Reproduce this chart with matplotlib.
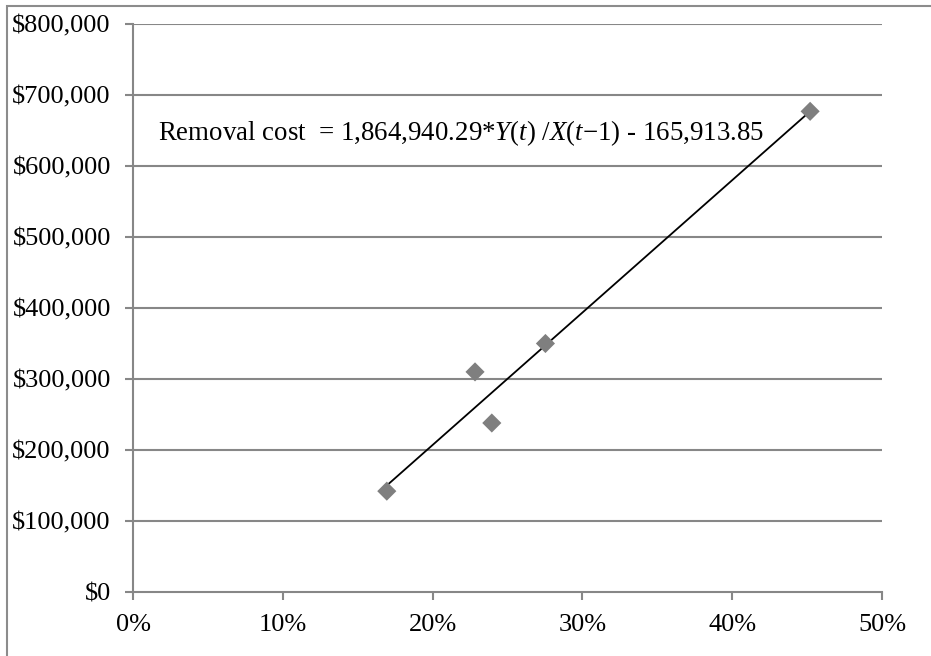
import numpy as np
import matplotlib.pyplot as plt
from matplotlib.patches import Rectangle
from matplotlib.ticker import FuncFormatter

# data
ratio = [0.1694, 0.2283, 0.2395, 0.2753, 0.4520]   # Y(t)/X(t-1)
cost = [142000, 310000, 238000, 350000, 677000]     # removal cost
slope = 1864940.29
intercept = -165913.85
xticks = [0, 0.1, 0.2, 0.3, 0.4, 0.5]
yticks = [0, 100000, 200000, 300000, 400000, 500000, 600000, 700000, 800000]

plt.rcParams['font.family'] = ['Liberation Serif', 'DejaVu Serif']
plt.rcParams['mathtext.fontset'] = 'custom'
plt.rcParams['mathtext.rm'] = 'Liberation Serif'
plt.rcParams['mathtext.it'] = 'Liberation Serif:italic'

fig = plt.figure(figsize=(9.31, 6.56), dpi=100)
ax = fig.add_axes([0.1429, 0.0976, 0.8045, 0.8658])

grid_c = '#878787'
for y in yticks[1:]:
    ax.axhline(y, color=grid_c, lw=1.5, zorder=1)

# trendline
xs = np.array([min(ratio), max(ratio)])
ax.plot(xs, slope * xs + intercept, color='black', lw=1.3, zorder=2)

ax.scatter(ratio, cost, marker='D', s=95, color='#7f7f7f', edgecolors='none', zorder=3)

ax.text(0.0167, 647000, 'Removal cost  = 1,864,940.29*$Y(t)$ /$X(t{-}1)$ - 165,913.85',
        fontsize=19.4, va='center', ha='left')

ax.set_xlim(0, 0.5)
ax.set_ylim(0, 800000)
ax.set_xticks(xticks)
ax.set_yticks(yticks)
ax.xaxis.set_major_formatter(FuncFormatter(lambda v, p: f'{v*100:.0f}%'))
ax.yaxis.set_major_formatter(FuncFormatter(lambda v, p: f'${v:,.0f}'))
ax.tick_params(labelsize=19, length=6, width=1.5, color=grid_c, direction='out')
ax.tick_params(axis='y', pad=10)
ax.tick_params(axis='x', pad=10)

for s in ['top', 'right']:
    ax.spines[s].set_visible(False)
for s in ['left', 'bottom']:
    ax.spines[s].set_color(grid_c)
    ax.spines[s].set_linewidth(1.5)
ax.patch.set_visible(False)

# outer chart border (cut off at right and bottom)
fig.add_artist(Rectangle((7 / 931, -0.1), 1.2, 1 + 0.1 - 6 / 656,
                         transform=fig.transFigure, fill=False,
                         edgecolor='#8c8c8c', lw=1.5))

fig.savefig('out.png', dpi=100)
